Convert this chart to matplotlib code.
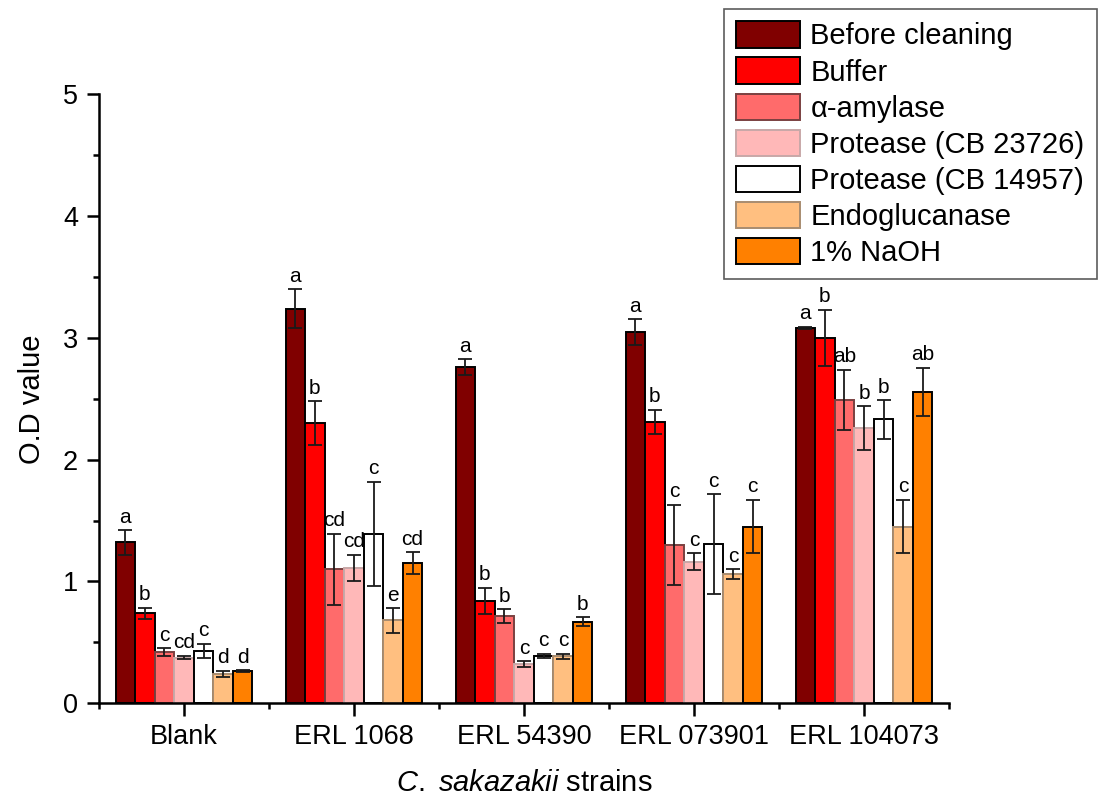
import matplotlib.pyplot as plt
import numpy as np

plt.rcParams['font.family'] = ['Liberation Sans', 'DejaVu Sans']
plt.rcParams['mathtext.fontset'] = 'custom'
plt.rcParams['mathtext.it'] = 'Liberation Sans:italic'
plt.rcParams['mathtext.rm'] = 'Liberation Sans'

strains = ['Blank', 'ERL 1068', 'ERL 54390', 'ERL 073901', 'ERL 104073']
treatments = ['Before cleaning', 'Buffer', 'α-amylase', 'Protease (CB 23726)',
              'Protease (CB 14957)', 'Endoglucanase', '1% NaOH']

# mean O.D per treatment, one value per strain
beforeCleaning = [1.32, 3.24, 2.76, 3.05, 3.08]
buffer = [0.74, 2.30, 0.84, 2.31, 3.00]
amylase = [0.42, 1.10, 0.715, 1.30, 2.49]
proteaseA = [0.375, 1.11, 0.32, 1.16, 2.26]
proteaseB = [0.43, 1.39, 0.39, 1.305, 2.33]
endoglucanase = [0.24, 0.68, 0.385, 1.06, 1.45]
naoh = [0.265, 1.15, 0.67, 1.45, 2.555]

# standard deviations
errBefore = [0.10, 0.16, 0.065, 0.105, 0.01]
errBuffer = [0.045, 0.18, 0.11, 0.10, 0.23]
errAmylase = [0.03, 0.29, 0.055, 0.33, 0.25]
errProteaseA = [0.015, 0.11, 0.025, 0.07, 0.18]
errProteaseB = [0.06, 0.43, 0.015, 0.41, 0.16]
errEndo = [0.025, 0.10, 0.02, 0.04, 0.22]
errNaoh = [0.005, 0.09, 0.035, 0.22, 0.20]

# significance letters
lettersBefore = ['a', 'a', 'a', 'a', 'a']
lettersBuffer = ['b', 'b', 'b', 'b', 'b']
lettersAmylase = ['c', 'cd', 'b', 'c', 'ab']
lettersProteaseA = ['cd', 'cd', 'c', 'c', 'b']
lettersProteaseB = ['c', 'c', 'c', 'c', 'b']
lettersEndo = ['d', 'e', 'c', 'c', 'c']
lettersNaoh = ['d', 'cd', 'b', 'c', 'ab']

allValues = [beforeCleaning, buffer, amylase, proteaseA, proteaseB, endoglucanase, naoh]
allErrors = [errBefore, errBuffer, errAmylase, errProteaseA, errProteaseB, errEndo, errNaoh]
allLetters = [lettersBefore, lettersBuffer, lettersAmylase, lettersProteaseA,
              lettersProteaseB, lettersEndo, lettersNaoh]

faceColors = ['#800000', '#ff0000', '#ff6b6b', '#ffb8b8', '#ffffff', '#ffbf80', '#ff8000']
edgeColors = ['#000000', '#000000', '#7a4040', '#c8a8a8', '#000000', '#a88c70', '#000000']

barWidth = 0.115

fig = plt.figure(figsize=(11.01, 8.0), dpi=100)
ax = fig.add_axes([0.0899, 0.121, 0.772, 0.761])

x = np.arange(1, len(strains) + 1)
for index, vals in enumerate(allValues):
    pos = x + (index - 3) * barWidth
    ax.bar(pos, vals, width=barWidth, color=faceColors[index], edgecolor=edgeColors[index],
           linewidth=1.4, label=treatments[index], zorder=2)
    ax.errorbar(pos, vals, yerr=allErrors[index], fmt='none', ecolor='#1a1a1a',
                elinewidth=1.3, capsize=5, capthick=1.3, zorder=3)
    for ind, val in enumerate(vals):
        ax.annotate(allLetters[index][ind], (pos[ind], val + allErrors[index][ind]),
                    xytext=(0, 2.5), textcoords='offset points', ha='center', va='bottom',
                    fontsize=15)

ax.set_xlim(0.5, 5.5)
ax.set_ylim(0, 5)
ax.spines['top'].set_visible(False)
ax.spines['right'].set_visible(False)
ax.spines['left'].set_linewidth(1.8)
ax.spines['bottom'].set_linewidth(1.8)

ax.set_xticks(x)
ax.set_xticklabels(strains, fontsize=19.5)
ax.set_xticks(np.arange(0.5, 5.6, 1.0), minor=True)
ax.set_yticks(np.arange(0, 6, 1))
ax.set_yticklabels([str(v) for v in range(6)], fontsize=19.5)
ax.set_yticks(np.arange(0.5, 5, 1.0), minor=True)
ax.tick_params(axis='both', which='major', direction='out', length=9, width=1.8, pad=6)
ax.tick_params(axis='both', which='minor', direction='out', length=4.5, width=1.8)

ax.set_ylabel('O.D value', fontsize=21, labelpad=12)
ax.set_xlabel(r'$\it{C.\ sakazakii}$ strains', fontsize=21)
ax.xaxis.set_label_coords(0.5, -0.108)

leg = ax.legend(loc='upper right', bbox_to_anchor=(1.174, 1.14), fontsize=21,
                frameon=True, fancybox=False, edgecolor='#333333', handlelength=2.2,
                handleheight=1.0, labelspacing=0.24, handletextpad=0.35, borderpad=0.42,
                borderaxespad=0.0)
leg.get_frame().set_linewidth(1.2)

plt.savefig('out.png', dpi=100)
